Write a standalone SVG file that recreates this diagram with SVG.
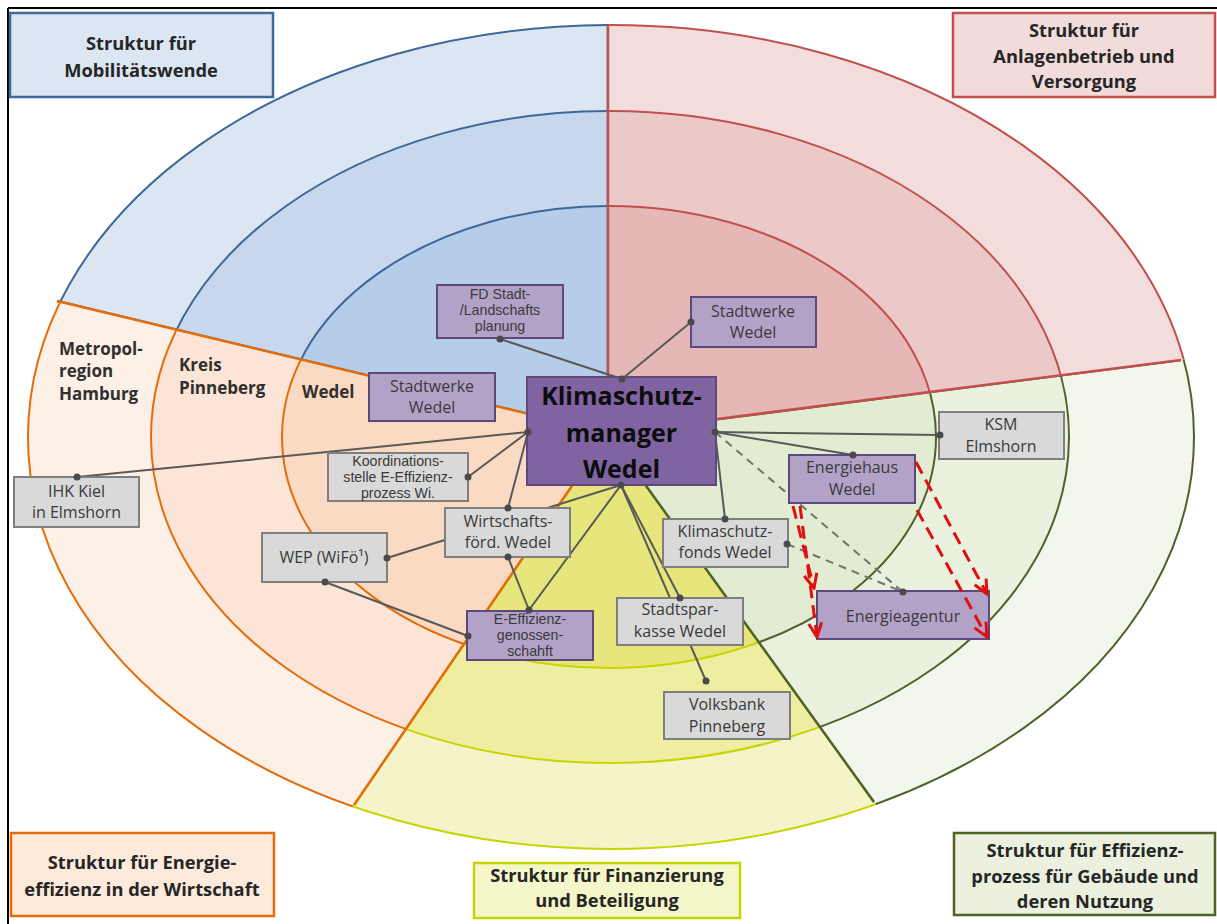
<svg xmlns="http://www.w3.org/2000/svg" width="1217" height="924" viewBox="0 0 1217 924">
<style>
text{font-family:"Open Sans","Liberation Sans",sans-serif;text-anchor:middle}
.hd{font-size:18.3px;font-weight:bold;fill:#262626}
.rg{font-size:17px;font-weight:bold;fill:#303030;text-anchor:start}
.nt{font-size:16px;fill:#3a3a3a}
.ns{font-family:"Liberation Sans",Arial,sans-serif;font-size:14.2px;fill:#3a3a3a}
.ksm{font-size:25px;font-weight:bold;fill:#0d0d0d}
.pu{fill:#b3a2c7;stroke:#5f497a;stroke-width:2}
.gr{fill:#d9d9d9;stroke:#7f7f7f;stroke-width:2}
.ring{stroke-width:2}
.edge{stroke-width:2.5;fill:none}
.cn{stroke:#595959;stroke-width:2;fill:none}
.dash{stroke:#6d7768;stroke-width:2;fill:none;stroke-dasharray:8 6}
.red{stroke:#e01010;stroke-width:3;fill:none;stroke-dasharray:13 7}
.dot{fill:#4a4a4a}
</style>
<defs>
<clipPath id="cBlue"><polygon points="608,433 -494,169 -494,-383 608,-383"/></clipPath>
<clipPath id="cRed"><polygon points="608,433 608,-383 1750,-383 1750,287"/></clipPath>
<clipPath id="cGreen"><polygon points="608,433 1750,287 1750,1177 1140,1171"/></clipPath>
<clipPath id="cYellow"><polygon points="608,433 1140,1171 100,1177"/></clipPath>
<clipPath id="cOrange"><polygon points="608,433 100,1177 -494,1177 -494,169"/></clipPath>
<ellipse id="eo" cx="611" cy="437" rx="583" ry="412"/>
<ellipse id="em" cx="610" cy="437" rx="459" ry="326"/>
<ellipse id="ei" cx="609" cy="437" rx="327" ry="231"/>
<marker id="ah" markerUnits="userSpaceOnUse" markerWidth="18" markerHeight="18" viewBox="0 0 18 18" refX="16" refY="9" orient="auto">
<path d="M2,2.5 L16,9 L2,15.5" fill="none" stroke="#e01010" stroke-width="3"/>
</marker>
</defs>
<rect width="1217" height="924" fill="#ffffff"/>
<g id="frame" stroke="#000" stroke-width="2">
<line x1="8" y1="8" x2="1217" y2="8"/>
<line x1="8" y1="8" x2="8" y2="924"/>
</g>

<g id="sector-blue" stroke="#3f6797">
<g clip-path="url(#cBlue)" class="ring">
<use href="#eo" fill="#dce6f3"/>
<use href="#em" fill="#c7d8ee"/>
<use href="#ei" fill="#b6cdea"/>
</g>
<line class="edge" x1="608" y1="433" x2="608" y2="25"/>
<line class="edge" x1="608" y1="433" x2="57" y2="301"/>
</g>
<g id="sector-yellow" stroke="#c6d400">
<g clip-path="url(#cYellow)" class="ring">
<use href="#eo" fill="#f4f4c8"/>
<use href="#em" fill="#eeeea0"/>
<use href="#ei" fill="#e6e67c"/>
</g>
<line class="edge" x1="608" y1="433" x2="874" y2="802"/>
<line class="edge" x1="608" y1="433" x2="354" y2="805"/>
</g>
<g id="sector-green" stroke="#4f6228">
<g clip-path="url(#cGreen)" class="ring">
<use href="#eo" fill="#f2f6ec"/>
<use href="#em" fill="#eaf1df"/>
<use href="#ei" fill="#e2ecd3"/>
</g>
<line class="edge" x1="608" y1="433" x2="1181" y2="360"/>
<line class="edge" x1="608" y1="433" x2="874" y2="802"/>
</g>
<g id="sector-red" stroke="#c0504d">
<g clip-path="url(#cRed)" class="ring">
<use href="#eo" fill="#f3dcdc"/>
<use href="#em" fill="#ecc9c9"/>
<use href="#ei" fill="#e5b7b7"/>
</g>
<line class="edge" x1="608" y1="433" x2="608" y2="25"/>
<line class="edge" x1="608" y1="433" x2="1181" y2="360"/>
</g>
<g id="sector-orange" stroke="#e46c0a">
<g clip-path="url(#cOrange)" class="ring">
<use href="#eo" fill="#fdf0e7"/>
<use href="#em" fill="#fce5d6"/>
<use href="#ei" fill="#fbdac4"/>
</g>
<line class="edge" x1="608" y1="433" x2="354" y2="805"/>
<line class="edge" x1="608" y1="433" x2="57" y2="301"/>
</g>

<g id="region-labels">
<text class="rg" x="59" y="355">Metropol-</text>
<text class="rg" x="59" y="377">region</text>
<text class="rg" x="59" y="400">Hamburg</text>
<text class="rg" x="179" y="371">Kreis</text>
<text class="rg" x="179" y="394">Pinneberg</text>
<text class="rg" x="302" y="398">Wedel</text>
</g>

<g id="legend-mobilitaet">
<rect x="10" y="13" width="263" height="84" fill="#dce6f2" stroke="#41699a" stroke-width="2.5"/>
<text class="hd" x="141" y="50">Struktur für</text>
<text class="hd" x="141" y="77">Mobilitätswende</text>
</g>
<g id="legend-anlagen">
<rect x="953" y="13" width="262" height="84" fill="#f2dcdb" stroke="#c0504d" stroke-width="2.5"/>
<text class="hd" x="1084" y="37">Struktur für</text>
<text class="hd" x="1084" y="63">Anlagenbetrieb und</text>
<text class="hd" x="1084" y="88">Versorgung</text>
</g>
<g id="legend-wirtschaft">
<rect x="11" y="833" width="263" height="83" fill="#fdeada" stroke="#e46c0a" stroke-width="2.5"/>
<text class="hd" x="142" y="869">Struktur für Energie-</text>
<text class="hd" x="142" y="896">effizienz in der Wirtschaft</text>
</g>
<g id="legend-finanz">
<rect x="474" y="863" width="266" height="55" fill="#f5f6c9" stroke="#c6d400" stroke-width="2.5"/>
<text class="hd" x="607" y="882">Struktur für Finanzierung</text>
<text class="hd" x="607" y="907">und Beteiligung</text>
</g>
<g id="legend-gebaeude">
<rect x="954" y="833" width="261" height="82" fill="#ebf1de" stroke="#4f6228" stroke-width="2.5"/>
<text class="hd" x="1085" y="857">Struktur für Effizienz-</text>
<text class="hd" x="1085" y="883">prozess für Gebäude und</text>
<text class="hd" x="1085" y="908">deren Nutzung</text>
</g>

<g id="connectors">
<line class="cn" x1="622" y1="379" x2="500" y2="339"/>
<line class="cn" x1="622" y1="379" x2="691" y2="322"/>
<line class="cn" x1="528" y1="432" x2="77" y2="477"/>
<line class="cn" x1="528" y1="432" x2="468" y2="477"/>
<line class="cn" x1="528" y1="432" x2="508" y2="508"/>
<line class="cn" x1="621" y1="485" x2="387" y2="558"/>
<line class="cn" x1="621" y1="485" x2="529" y2="610"/>
<line class="cn" x1="508" y1="557" x2="529" y2="610"/>
<line class="cn" x1="325" y1="582" x2="468" y2="636"/>
<line class="cn" x1="621" y1="485" x2="680" y2="598"/>
<line class="cn" x1="621" y1="485" x2="706" y2="681"/>
<line class="cn" x1="715" y1="432" x2="940" y2="435"/>
<line class="cn" x1="715" y1="432" x2="853" y2="455"/>
<line class="cn" x1="715" y1="432" x2="725" y2="519"/>
<line class="dash" x1="715" y1="432" x2="903" y2="592"/>
<line class="dash" x1="787" y1="544" x2="903" y2="592"/>
</g>

<g id="n-ksm">
<rect x="527" y="377" width="189" height="108" fill="#8064a2" stroke="#5f497a" stroke-width="2"/>
<text class="ksm" x="621.5" y="405">Klimaschutz-</text>
<text class="ksm" x="621.5" y="442">manager</text>
<text class="ksm" x="621.5" y="478">Wedel</text>
</g>
<g id="n-fd">
<rect class="pu" x="437" y="285" width="126" height="53"/>
<text class="ns" x="500" y="299">FD Stadt-</text>
<text class="ns" x="500" y="315">/Landschafts</text>
<text class="ns" x="500" y="331">planung</text>
</g>
<g id="n-stadtwerke-top">
<rect class="pu" x="691" y="297" width="125" height="50"/>
<text class="nt" x="753" y="317">Stadtwerke</text>
<text class="nt" x="753" y="338">Wedel</text>
</g>
<g id="n-stadtwerke-left">
<rect class="pu" x="369" y="373" width="126" height="48"/>
<text class="nt" x="432" y="392">Stadtwerke</text>
<text class="nt" x="432" y="413">Wedel</text>
</g>
<g id="n-koordination">
<rect class="gr" x="328" y="453" width="140" height="48"/>
<text class="ns" x="398" y="466">Koordinations-</text>
<text class="ns" x="398" y="482">stelle E-Effizienz-</text>
<text class="ns" x="398" y="498">prozess Wi.</text>
</g>
<g id="n-ihk">
<rect class="gr" x="14" y="477" width="125" height="50"/>
<text class="nt" x="76.5" y="497">IHK Kiel</text>
<text class="nt" x="76.5" y="518">in Elmshorn</text>
</g>
<g id="n-wirtschaft">
<rect class="gr" x="445" y="508" width="125" height="49"/>
<text class="nt" x="508" y="527">Wirtschafts-</text>
<text class="nt" x="508" y="548">förd. Wedel</text>
</g>
<g id="n-wep">
<rect class="gr" x="262" y="533" width="125" height="49"/>
<text class="nt" x="324" y="563">WEP (WiFö¹)</text>
</g>
<g id="n-effizienz-geno">
<rect class="pu" x="467" y="611" width="126" height="49"/>
<text class="ns" x="530" y="624">E-Effizienz-</text>
<text class="ns" x="530" y="640">genossen-</text>
<text class="ns" x="530" y="656">schahft</text>
</g>
<g id="n-ks-fonds">
<rect class="gr" x="663" y="519" width="125" height="48"/>
<text class="nt" x="725" y="537">Klimaschutz-</text>
<text class="nt" x="725" y="558">fonds Wedel</text>
</g>
<g id="n-sparkasse">
<rect class="gr" x="617" y="598" width="126" height="47"/>
<text class="nt" x="680" y="615">Stadtspar-</text>
<text class="nt" x="680" y="637">kasse Wedel</text>
</g>
<g id="n-volksbank">
<rect class="gr" x="664" y="692" width="126" height="47"/>
<text class="nt" x="727" y="710">Volksbank</text>
<text class="nt" x="727" y="732">Pinneberg</text>
</g>
<g id="n-ksm-elmshorn">
<rect class="gr" x="939" y="412" width="125" height="47"/>
<text class="nt" x="1001" y="430">KSM</text>
<text class="nt" x="1001" y="452">Elmshorn</text>
</g>
<g id="n-energiehaus">
<rect class="pu" x="789" y="455" width="126" height="48"/>
<text class="nt" x="852" y="473">Energiehaus</text>
<text class="nt" x="852" y="495">Wedel</text>
</g>
<g id="n-energieagentur">
<rect class="pu" x="817" y="591" width="172" height="48"/>
<text class="nt" x="903" y="622">Energieagentur</text>
</g>

<g id="arrows">
<line class="red" x1="793" y1="506" x2="814" y2="588" marker-end="url(#ah)"/>
<line class="red" x1="800" y1="506" x2="817" y2="637" marker-end="url(#ah)"/>
<line class="red" x1="916" y1="462" x2="987" y2="594" marker-end="url(#ah)"/>
<line class="red" x1="917" y1="510" x2="987" y2="637" marker-end="url(#ah)"/>
</g>
<g id="dots" class="dot">
<circle cx="622" cy="379" r="3.5"/>
<circle cx="528" cy="432" r="3.5"/>
<circle cx="715" cy="432" r="3.5"/>
<circle cx="621" cy="485" r="3.5"/>
<circle cx="500" cy="339" r="3.5"/>
<circle cx="691" cy="322" r="3.5"/>
<circle cx="77" cy="477" r="3.5"/>
<circle cx="468" cy="477" r="3.5"/>
<circle cx="508" cy="508" r="3.5"/>
<circle cx="508" cy="557" r="3.5"/>
<circle cx="387" cy="558" r="3.5"/>
<circle cx="325" cy="582" r="3.5"/>
<circle cx="529" cy="610" r="3.5"/>
<circle cx="468" cy="636" r="3.5"/>
<circle cx="680" cy="598" r="3.5"/>
<circle cx="706" cy="681" r="3.5"/>
<circle cx="940" cy="435" r="3.5"/>
<circle cx="853" cy="455" r="3.5"/>
<circle cx="725" cy="519" r="3.5"/>
<circle cx="787" cy="544" r="3.5"/>
<circle cx="903" cy="592" r="3.5"/>
</g>
</svg>
